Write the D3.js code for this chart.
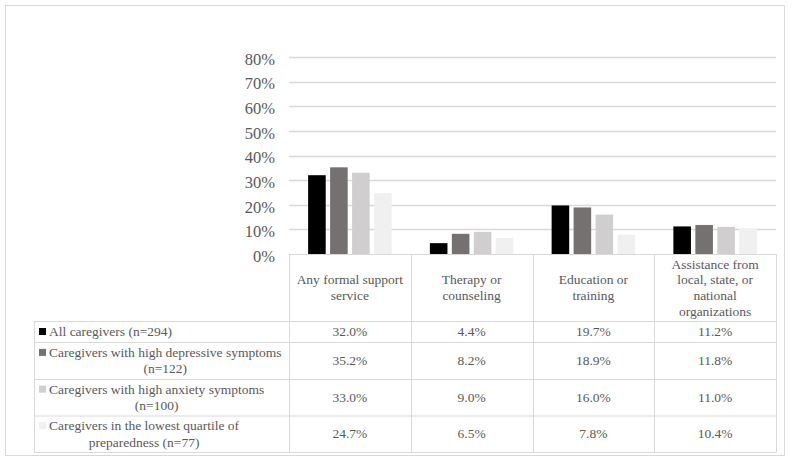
<!DOCTYPE html>
<html>
<head>
<meta charset="utf-8">
<script src="https://cdn.jsdelivr.net/npm/d3@7"></script>
<style>
  html, body { margin: 0; padding: 0; background: #fff; }
  svg { display: block; }
</style>
</head>
<body>
<svg id="chart" width="800" height="467"></svg>
<script>
// ---- Data ----
const categories = [
  "Any formal support\nservice",
  "Therapy or\ncounseling",
  "Education or\ntraining",
  "Assistance from\nlocal, state, or\nnational\norganizations"
];
const seriesNames = [
  "All caregivers (n=294)",
  "Caregivers with high depressive symptoms\n(n=122)",
  "Caregivers with high anxiety symptoms\n(n=100)",
  "Caregivers in the lowest quartile of\npreparedness (n=77)"
];
const allCaregivers   = [32.0, 4.4, 19.7, 11.2];
const highDepressive  = [35.2, 8.2, 18.9, 11.8];
const highAnxiety     = [33.0, 9.0, 16.0, 11.0];
const lowPreparedness = [24.7, 6.5, 7.8, 10.4];
const yTicks = [0, 10, 20, 30, 40, 50, 60, 70, 80];
const seriesColors = ["#000000", "#767171", "#d0cece", "#f0f0f0"];

const seriesValues = [allCaregivers, highDepressive, highAnxiety, lowPreparedness];

// ---- Layout ----
const FONT = "'Liberation Serif'";
const TEXT_COLOR = "#595959";
const svg = d3.select("#chart");
const plotLeft = 289, plotRight = 776, plotTop = 57, plotBottom = 254;
const tableLeft = 34;
const rowBounds = [321, 342, 379, 415.5, 452];
const gridColor = "#d9d9d9";

function styleText(sel, size) {
  return sel.style("font-family", FONT).style("font-size", size + "px").style("fill", TEXT_COLOR);
}

// outer frame
svg.append("rect")
  .attr("x", 5.5).attr("y", 5.5).attr("width", 779).attr("height", 450)
  .attr("fill", "none").attr("stroke", gridColor).attr("stroke-width", 1);

const x0 = d3.scaleBand().domain(d3.range(categories.length)).range([plotLeft, plotRight]).padding(0);
const x1 = d3.scaleBand().domain(d3.range(seriesNames.length)).range([-41.75, 41.75]).paddingInner(0.2);
const y = d3.scaleLinear().domain([0, 80]).range([plotBottom, plotTop]);

// gridlines
svg.append("g").selectAll("line").data(yTicks.filter(d => d > 0)).join("line")
  .attr("x1", plotLeft).attr("x2", plotRight)
  .attr("y1", d => Math.round(y(d)) + 0.5).attr("y2", d => Math.round(y(d)) + 0.5)
  .attr("stroke", gridColor).attr("stroke-width", 1.3);

// y axis labels via d3 axis
const yAxis = d3.axisLeft(y).tickValues(yTicks).tickFormat(d => d + "%").tickSize(0).tickPadding(0);
const yg = svg.append("g").attr("transform", `translate(275,2)`).call(yAxis);
yg.select(".domain").remove();
styleText(yg.selectAll("text"), 16.5);

// bars
const groups = svg.append("g").selectAll("g").data(categories).join("g")
  .attr("transform", (d, i) => `translate(${x0(i) + x0.bandwidth() / 2},0)`);
groups.selectAll("rect").data((d, i) => seriesValues.map((s, j) => ({ j, v: s[i] }))).join("rect")
  .attr("x", d => x1(d.j)).attr("width", x1.bandwidth())
  .attr("y", d => y(d.v)).attr("height", d => y(0) - y(d.v))
  .attr("fill", d => seriesColors[d.j]);

// ---- Data table ----
const tg = svg.append("g");
const line = (x1_, y1_, x2_, y2_) => tg.append("line")
  .attr("x1", x1_).attr("y1", y1_).attr("x2", x2_).attr("y2", y2_)
  .attr("stroke", gridColor).attr("stroke-width", 1);

line(plotLeft, plotBottom + 0.5, plotRight, plotBottom + 0.5);
rowBounds.forEach(r => line(tableLeft, r + 0.5, plotRight, r + 0.5));
line(tableLeft + 0.5, rowBounds[0], tableLeft + 0.5, rowBounds[4] + 0.5);
d3.range(categories.length + 1).forEach(i => {
  const xx = Math.round(plotLeft + i * x0.bandwidth()) + 0.5;
  line(xx, plotBottom, xx, rowBounds[4] + 0.5);
});

const FS = 13.5;
// header labels
categories.forEach((c, i) => {
  const lines = c.split("\n");
  const cx = x0(i) + x0.bandwidth() / 2;
  const cy = (plotBottom + rowBounds[0]) / 2;
  const lh = 15.6;
  const t = styleText(tg.append("text").attr("text-anchor", "middle"), FS);
  lines.forEach((l, k) => {
    t.append("tspan").attr("x", cx).attr("y", cy + (k - (lines.length - 1) / 2) * lh).attr("dy", "0.35em").text(l);
  });
});

// legend rows + values
seriesNames.forEach((s, j) => {
  const top = rowBounds[j], bot = rowBounds[j + 1];
  const cy = (top + bot) / 2;
  const lines = s.split("\n");
  const lh = 16.2;
  const firstY = cy - (lines.length - 1) / 2 * lh;
  tg.append("rect").attr("x", 39).attr("y", firstY - 3.5).attr("width", 7).attr("height", 7)
    .attr("fill", seriesColors[j]);
  const t = styleText(tg.append("text"), FS);
  const spans = lines.map((l, k) => t.append("tspan").attr("y", firstY + k * lh).attr("dy", "0.35em").text(l));
  const widths = spans.map(sp => sp.node().getComputedTextLength());
  const maxW = d3.max(widths);
  const textStart = 49;
  t.attr("text-anchor", "middle");
  spans.forEach(sp => sp.attr("x", textStart + maxW / 2));
  seriesValues[j].forEach((v, i) => {
    styleText(tg.append("text"), FS).attr("text-anchor", "middle")
      .attr("x", x0(i) + x0.bandwidth() / 2).attr("y", cy).attr("dy", "0.35em")
      .text(v.toFixed(1) + "%");
  });
});
</script>
</body>
</html>
